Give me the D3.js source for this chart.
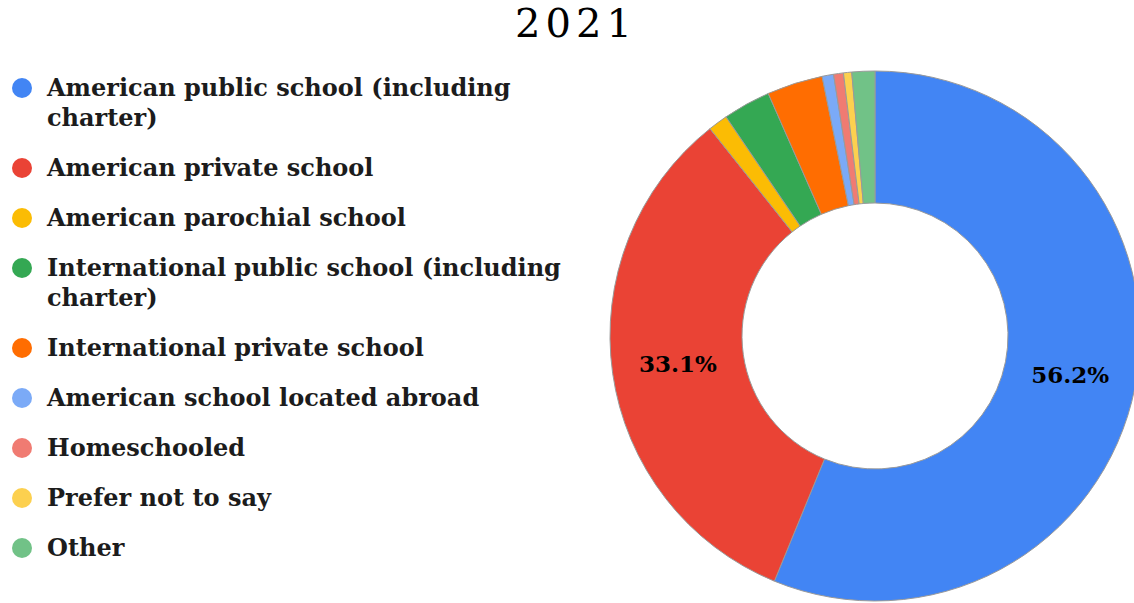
<!DOCTYPE html>
<html><head><meta charset="utf-8">
<script src="https://cdn.jsdelivr.net/npm/d3@7"></script>
<style>html,body{margin:0;padding:0;background:#fff;}</style>
</head><body>
<svg id="c" width="1134" height="603"></svg>
<script>
const title = "2021";
const categories = [
  "American public school (including charter)",
  "American private school",
  "American parochial school",
  "International public school (including charter)",
  "International private school",
  "American school located abroad",
  "Homeschooled",
  "Prefer not to say",
  "Other"
];
const values = [56.2, 33.1, 1.2, 2.9, 3.4, 0.7, 0.6, 0.5, 1.4];
const colors = ["#4285F4","#EA4335","#FBBC04","#34A853","#FF6D01","#7BAAF7","#F07B72","#FCD04F","#71C287"];

const svg = d3.select("#c");
const legendFont = "'DejaVu Serif', serif";

svg.append("text").attr("x", 576).attr("y", 37).attr("text-anchor","middle")
  .attr("font-family","'DejaVu Serif', serif").attr("font-size", 40).attr("letter-spacing", 5)
  .attr("fill","#000").text(title);

// donut
const cx = 875, cy = 336, rO = 265, rI = 133;
const pie = d3.pie().sort(null).value(d => d.v);
const arcs = pie(categories.map((c,i)=>({c, v: values[i], col: colors[i]})));
const arc = d3.arc().innerRadius(rI).outerRadius(rO);
const g = svg.append("g").attr("transform", `translate(${cx},${cy})`);
g.selectAll("path").data(arcs).join("path")
  .attr("d", arc).attr("fill", d => d.data.col)
  .attr("stroke", "#9a9a9a").attr("stroke-width", 1);
const labelArc = d3.arc().innerRadius((rI+rO)/2).outerRadius((rI+rO)/2);
g.selectAll("text.lbl").data(arcs.filter(d => d.data.v > 10)).join("text")
  .attr("class","lbl")
  .attr("transform", d => `translate(${labelArc.centroid(d)})`)
  .attr("text-anchor","middle").attr("dy","0.35em")
  .attr("font-family", legendFont).attr("font-weight","bold").attr("font-size", 23)
  .attr("fill","#000")
  .text(d => d.data.v.toFixed(1) + "%");

// legend
const lg = svg.append("g");
const maxX = 565, lineH = 30, gap = 50;
let y = 88;
categories.forEach((c,i) => {
  const t = lg.append("text").attr("x", 47).attr("y", y).attr("dy","0.35em")
    .attr("font-family", legendFont).attr("font-weight","bold").attr("font-size", 24)
    .attr("fill","#1c1c1c");
  const words = c.split(" ");
  let lines = [], cur = [];
  let ts = t.append("tspan").attr("x",47);
  words.forEach(w => {
    cur.push(w);
    ts.text(cur.join(" "));
    if (ts.node().getComputedTextLength() > maxX - 47 && cur.length > 1) {
      cur.pop(); ts.text(cur.join(" "));
      lines.push(ts);
      cur = [w];
      ts = t.append("tspan").attr("x",47).attr("dy", lineH).text(w);
    }
  });
  lines.push(ts);
  lg.append("circle").attr("cx", 22).attr("cy", y).attr("r", 10).attr("fill", colors[i]);
  y += gap + lineH*(lines.length-1);
});
</script>
</body></html>
